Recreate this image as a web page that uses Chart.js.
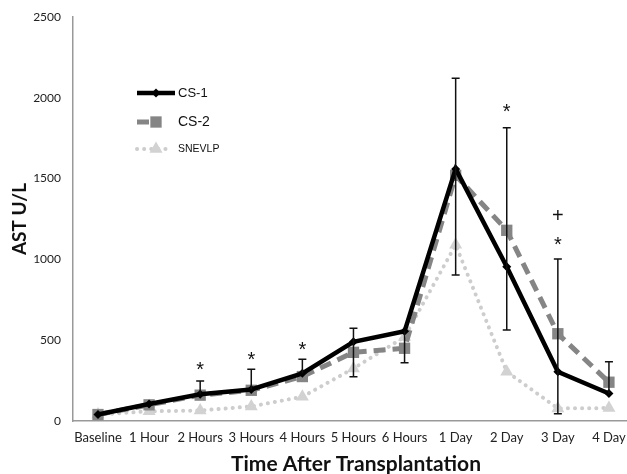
<!DOCTYPE html>
<html>
<head>
<meta charset="utf-8">
<script src="https://cdn.jsdelivr.net/npm/chart.js@4.4.1/dist/chart.umd.min.js"></script>
<style>
  html, body { margin: 0; padding: 0; background: #fff; overflow: hidden; }
  #wrap { position: relative; width: 627px; height: 474px; overflow: hidden; }
</style>
</head>
<body>
<div id="wrap"><canvas id="chart" width="635" height="474"></canvas></div>
<script>
// time points after transplantation
const timeLabels = ['Baseline', '1 Hour', '2 Hours', '3 Hours', '4 Hours', '5 Hours', '6 Hours', '1 Day', '2 Day', '3 Day', '4 Day'];

// AST U/L
const cs1 = [40, 105, 165, 195, 295, 490, 555, 1560, 955, 305, 170];
const cs2 = [40, 100, 160, 190, 275, 425, 450, 1520, 1180, 540, 240];
const snevlp = [40, 60, 65, 90, 150, 325, 520, 1090, 305, 78, 80];

// error bars around CS-1 (null = no end / no cap)
const errLow = [null, null, null, null, null, 274, 361, 903, 563, 45, null];
const errHigh = [null, null, 247, 320, 382, 574, null, 2121, 1815, 1002, 367];

// significance marks: index, value, symbol
const markIdx = [2, 3, 4, 8, 9, 9];
const markVal = [336, 398, 460, 1931, 1264, 1109];
const markSym = ['*', '*', '*', '*', '+', '*'];

const yTicks = [0, 500, 1000, 1500, 2000, 2500];

const toXY = arr => arr.map((v, i) => ({ x: i, y: v }));

const errorBars = {
    id: 'errorBars',
    afterDatasetsDraw(chart) {
        const ctx = chart.ctx, x = chart.scales.x, y = chart.scales.y;
        ctx.save();
        ctx.strokeStyle = '#111';
        ctx.lineWidth = 1.5;
        timeLabels.forEach((_, i) => {
            if (errLow[i] == null && errHigh[i] == null) return;
            const px = x.getPixelForValue(i);
            const lo = y.getPixelForValue(errLow[i] ?? cs1[i]);
            const hi = y.getPixelForValue(errHigh[i] ?? cs1[i]);
            ctx.beginPath();
            ctx.moveTo(px, lo); ctx.lineTo(px, hi);
            if (errLow[i] != null) { ctx.moveTo(px - 4, lo); ctx.lineTo(px + 4, lo); }
            if (errHigh[i] != null) { ctx.moveTo(px - 4, hi); ctx.lineTo(px + 4, hi); }
            ctx.stroke();
        });
        // * and + marks
        ctx.fillStyle = '#111';
        ctx.textAlign = 'center';
        ctx.textBaseline = 'middle';
        ctx.font = '20px "Liberation Sans"';
        markIdx.forEach((i, k) => {
            const dy = markSym[k] === '*' ? 4 : 0;
            ctx.fillText(markSym[k], x.getPixelForValue(i), y.getPixelForValue(markVal[k]) + dy);
        });
        ctx.restore();
    }
};

const legendBox = {
    id: 'legendBox',
    afterDraw(chart) {
        const ctx = chart.ctx;
        const left = chart.chartArea.left;
        const rows = [
            { ds: 0, y: 93, end: 175, font: '13px "Liberation Sans"' },
            { ds: 1, y: 122, end: 157, font: '14px "Liberation Sans"' },
            { ds: 2, y: 149, end: 172, font: '10.5px "Liberation Sans"' }
        ];
        ctx.save();
        rows.forEach(r => {
            const ds = chart.data.datasets[r.ds];
            ctx.strokeStyle = ds.borderColor;
            ctx.fillStyle = ds.pointBackgroundColor;
            ctx.lineWidth = ds.borderWidth;
            ctx.lineCap = ds.borderCapStyle || 'butt';
            ctx.setLineDash(ds.borderDash || []);
            ctx.beginPath();
            ctx.moveTo(left + 64, r.y);
            ctx.lineTo(r.end, r.y);
            ctx.stroke();
            ctx.setLineDash([]);
            Chart.helpers.drawPoint(ctx, { pointStyle: ds.pointStyle, radius: ds.pointRadius, rotation: 0, borderWidth: 0 }, left + 83, r.y);
            ctx.fillStyle = '#111';
            ctx.font = r.font;
            ctx.textAlign = 'left';
            ctx.textBaseline = 'middle';
            ctx.fillText(ds.label, left + 105, r.y);
        });
        // x axis title
        ctx.font = 'bold 21px Lato';
        ctx.textAlign = 'center';
        ctx.fillText('Time After Transplantation', left + 283, 464);
        ctx.restore();
    }
};

new Chart(document.getElementById('chart'), {
    type: 'line',
    data: {
        datasets: [
            {
                label: 'CS-1', data: toXY(cs1),
                borderColor: '#000', borderWidth: 4.5,
                pointStyle: 'rectRot', pointRadius: 4.5, pointBackgroundColor: '#000', pointBorderWidth: 0
            },
            {
                label: 'CS-2', data: toXY(cs2),
                borderColor: '#858585', borderWidth: 5, borderDash: [12, 7],
                pointStyle: 'rect', pointRadius: 8, pointBackgroundColor: '#858585', pointBorderWidth: 0
            },
            {
                label: 'SNEVLP', data: toXY(snevlp),
                borderColor: '#cdcdcd', borderWidth: 4, borderDash: [0.1, 7], borderCapStyle: 'round',
                pointStyle: 'triangle', pointRadius: 7.5, pointBackgroundColor: '#d2d2d2', pointBorderWidth: 0
            }
        ]
    },
    options: {
        responsive: false, animation: false,
        layout: { padding: { top: 17, right: 0, left: 0, bottom: 0 } },
        plugins: { legend: { display: false }, tooltip: { enabled: false } },
        scales: {
            x: {
                type: 'linear', min: -0.489, max: 10.352,
                grid: { display: false, drawTicks: false },
                border: { color: '#999', width: 1.5 },
                afterBuildTicks: s => { s.ticks = timeLabels.map((_, i) => ({ value: i })); },
                afterFit: s => { s.height = 53; },
                ticks: {
                    autoSkip: false, maxRotation: 0, padding: 9, color: '#222',
                    font: { family: 'Lato', size: 13 },
                    callback: v => timeLabels[v]
                }
            },
            y: {
                min: 0, max: 2500,
                grid: { display: false, drawTicks: false },
                border: { color: '#999', width: 1.5 },
                afterBuildTicks: s => { s.ticks = yTicks.map(v => ({ value: v })); },
                afterFit: s => { s.width = 73; s.paddingTop = 0; s.paddingBottom = 0; },
                ticks: { padding: 12, color: '#222', font: { family: 'Lato', size: 12 }, callback: v => String(v) },
                title: {
                    display: true, text: 'AST U/L', color: '#111',
                    font: { family: 'Lato', size: 19, weight: 'bold' },
                    padding: { top: 8, bottom: 0 }
                }
            }
        }
    },
    plugins: [errorBars, legendBox]
});
</script>
</body>
</html>
